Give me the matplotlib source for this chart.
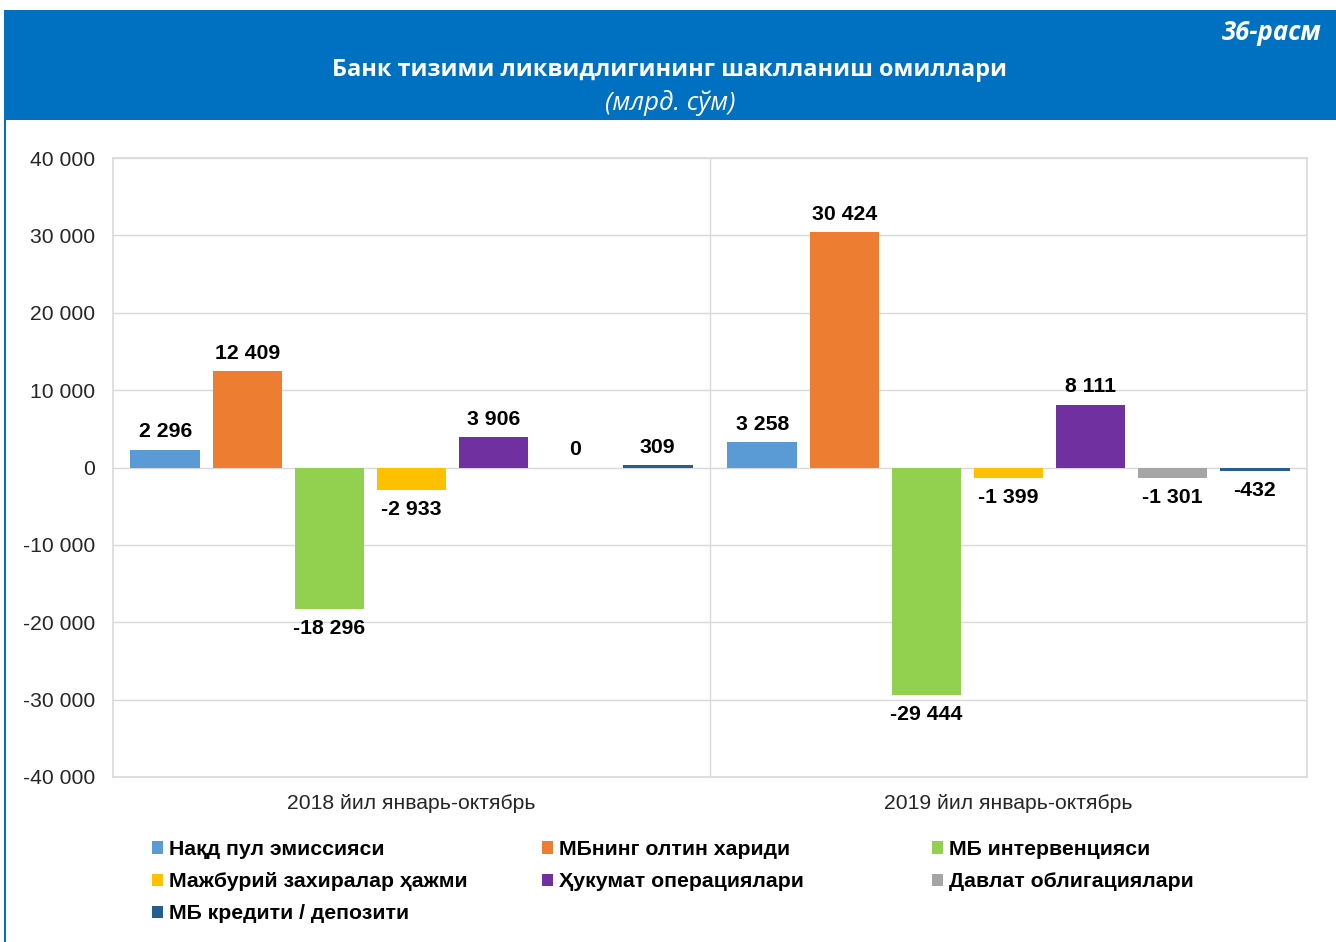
import matplotlib
matplotlib.use("Agg")
import matplotlib.pyplot as plt
import numpy as np
from matplotlib.patches import Rectangle
from matplotlib.ticker import FuncFormatter, MultipleLocator

plt.rcParams['font.family'] = ['Liberation Sans', 'DejaVu Sans']

categories = ["2018 йил январь-октябрь", "2019 йил январь-октябрь"]
series_names = [
    "Нақд пул эмиссияси",
    "МБнинг олтин хариди",
    "МБ интервенцияси",
    "Мажбурий захиралар ҳажми",
    "Ҳукумат операциялари",
    "Давлат облигациялари",
    "МБ кредити / депозити",
]
values_2018 = [2296, 12409, -18296, -2933, 3906, 0, 309]
values_2019 = [3258, 30424, -29444, -1399, 8111, -1301, -432]
colors = ["#5B9BD5", "#ED7D31", "#92D050", "#FFC000", "#7030A0", "#A5A5A5", "#255E91"]

title = "Банк тизими ликвидлигининг шаклланиш омиллари"
subtitle = "(млрд. сўм)"
fig_label = "36-расм"

W, H = 1336, 942
fig = plt.figure(figsize=(W / 100, H / 100), dpi=100)
fig.patch.set_facecolor("white")

# header
fig.add_artist(Rectangle((5 / W, 1 - 120 / H), 1 - 5 / W, 110 / H, transform=fig.transFigure,
                         facecolor="#0070C0", edgecolor="none"))
fig.add_artist(Rectangle((4 / W, 0), 2 / W, 1 - 10 / H, transform=fig.transFigure,
                         facecolor="#0070C0", edgecolor="none"))
fig.text(670 / W, 1 - 70 / H, title, ha="center", va="center", color="white",
         fontsize=16.9, fontweight="bold", family=["Open Sans", "DejaVu Sans"])
fig.text(670 / W, 1 - 103 / H, subtitle, ha="center", va="center", color="white",
         fontsize=18.5, style="italic", family=["Open Sans", "DejaVu Sans"])
fig.text(1322 / W, 1 - 33 / H, fig_label, ha="right", va="center", color="white",
         fontsize=18.5, fontweight="bold", style="italic", family=["Open Sans", "DejaVu Sans"])

ax = fig.add_axes([113 / W, 1 - 777 / H, (1307 - 113) / W, (777 - 158) / H])
data = np.array([values_2018, values_2019])
n = len(series_names)
step = 0.1374
width = 0.117
x = np.arange(len(categories))
bars = []
for j in range(n):
    pos = x + (j - (n - 1) / 2) * step
    b = ax.bar(pos, data[:, j], width=width, color=colors[j], label=series_names[j], zorder=3)
    bars.append(b)
    for xi, v in zip(pos, data[:, j]):
        off = 13 if v >= 0 else -14
        ax.annotate(f"{v:,}".replace(",", " "), (xi, v), xytext=(0, off), textcoords="offset points",
                    ha="center", va="center", fontsize=15.3, fontweight="bold", color="black", zorder=4)

ax.set_xlim(-0.5, 1.5)
ax.set_ylim(-40000, 40000)
ax.yaxis.set_major_locator(MultipleLocator(10000))
ax.yaxis.set_major_formatter(FuncFormatter(lambda v, p: f"{int(v):,}".replace(",", " ")))
ax.set_xticks(x)
ax.set_xticklabels(categories)
ax.set_xticks([0.5], minor=True)
ax.grid(axis="y", which="major", color="#D9D9D9", linewidth=1, zorder=0)
ax.grid(axis="x", which="minor", color="#D9D9D9", linewidth=1, zorder=0)
ax.tick_params(axis="both", which="both", length=0, labelsize=15.2, colors="#262626")
ax.tick_params(axis="y", pad=13)
ax.tick_params(axis="x", pad=12.5)
for s in ax.spines.values():
    s.set_color("#D9D9D9")
    s.set_linewidth(1.2)

cols = [[0, 3, 6], [1, 4], [2, 5]]
col_x = [152, 542, 932]
for cx, idxs in zip(col_x, cols):
    leg = fig.legend([bars[i] for i in idxs], [series_names[i] for i in idxs],
                     loc="upper left", bbox_to_anchor=(cx / W, 1 - 840 / H),
                     frameon=False, handlelength=0.5, handleheight=0.5, handletextpad=0.3,
                     labelspacing=0.62, borderpad=0, borderaxespad=0,
                     prop={"weight": "bold", "size": 15.3})

fig.savefig("out.png", dpi=100, facecolor="white")
